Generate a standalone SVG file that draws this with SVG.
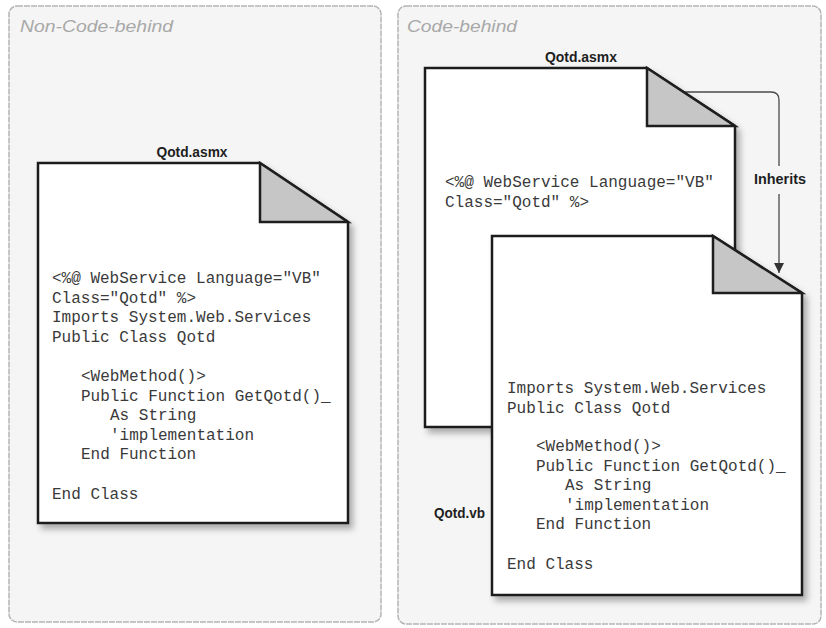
<svg xmlns="http://www.w3.org/2000/svg" width="826" height="628" viewBox="0 0 826 628">
<style>
.panel{fill:#f5f5f5;stroke:#b4b4b4;stroke-width:1.5;stroke-dasharray:6 1}
.title{font-family:"Liberation Sans",Arial,sans-serif;font-style:italic;font-size:17px;fill:#a8a8a8}
.doc{fill:#ffffff;stroke:#1e1e1e;stroke-width:2.5;stroke-linejoin:miter}
.fold{fill:#c6c6c6;stroke:#1e1e1e;stroke-width:2.5;stroke-linejoin:miter}
.label{font-family:"Liberation Sans",Arial,sans-serif;font-weight:bold;font-size:15px;fill:#1e1e1e}
.code{font-family:"Liberation Mono","DejaVu Sans Mono",monospace;font-size:16px;fill:#3a3a3a}
.conn{fill:none;stroke:#4a4a4a;stroke-width:1.3}
</style>
<defs>
<filter id="sh" x="-10%" y="-10%" width="130%" height="130%">
<feDropShadow dx="4" dy="5" stdDeviation="3" flood-color="#000" flood-opacity="0.3"/>
</filter>
<marker id="ah" markerWidth="10" markerHeight="10" refX="10" refY="5" orient="auto" markerUnits="userSpaceOnUse" viewBox="0 0 10 10">
<path d="M0,0 L10,5 L0,10 Z" fill="#333"/>
</marker>
</defs>

<g id="panel-left">
<rect class="panel" x="9" y="6" width="372" height="616" rx="8"/>
<text class="title" x="20" y="32" textLength="153" lengthAdjust="spacingAndGlyphs">Non-Code-behind</text>
</g>
<g id="panel-right">
<rect class="panel" x="398" y="6" width="423" height="618" rx="8"/>
<text class="title" x="407" y="32" textLength="110" lengthAdjust="spacingAndGlyphs">Code-behind</text>
</g>

<g id="connectors">
<path class="conn" d="M660 92 H771 Q779 92 779 100 V166 M779 194 V273" marker-end="url(#ah)"/>
<text class="label" x="780" y="184" text-anchor="middle" textLength="52" lengthAdjust="spacingAndGlyphs">Inherits</text>
</g>

<g id="doc-left">
<text class="label" x="192" y="157" text-anchor="middle" textLength="71" lengthAdjust="spacingAndGlyphs">Qotd.asmx</text>
<path class="doc" filter="url(#sh)" d="M38 163 H260 L348 222 V523 H38 Z"/>
<path class="fold" d="M260 163 V222 H348 Z"/>
<text class="code" x="52" y="283">&lt;%@ WebService Language="VB"</text>
<text class="code" x="52" y="302.6">Class="Qotd" %&gt;</text>
<text class="code" x="52" y="322.2">Imports System.Web.Services</text>
<text class="code" x="52" y="341.8">Public Class Qotd</text>
<text class="code" x="81" y="381">&lt;WebMethod()&gt;</text>
<text class="code" x="81" y="400.6">Public Function GetQotd()_</text>
<text class="code" x="110" y="420.2">As String</text>
<text class="code" x="110" y="439.8">'implementation</text>
<text class="code" x="81" y="459.4">End Function</text>
<text class="code" x="52" y="498.6">End Class</text>
</g>

<g id="doc-asmx">
<text class="label" x="581" y="62" text-anchor="middle" textLength="72" lengthAdjust="spacingAndGlyphs">Qotd.asmx</text>
<path class="doc" filter="url(#sh)" d="M425 68 H647 L735 126 V427 H425 Z"/>
<path class="fold" d="M647 68 V126 H735 Z"/>
<text class="code" x="445" y="187">&lt;%@ WebService Language="VB"</text>
<text class="code" x="445" y="206.6">Class="Qotd" %&gt;</text>
</g>

<g id="doc-vb">
<text class="label" x="434" y="518" textLength="51" lengthAdjust="spacingAndGlyphs">Qotd.vb</text>
<path class="doc" filter="url(#sh)" d="M492 236 H713 L802 293 V595 H492 Z"/>
<path class="fold" d="M713 236 V293 H802 Z"/>
<text class="code" x="507" y="393">Imports System.Web.Services</text>
<text class="code" x="507" y="412.6">Public Class Qotd</text>
<text class="code" x="536" y="451">&lt;WebMethod()&gt;</text>
<text class="code" x="536" y="470.6">Public Function GetQotd()_</text>
<text class="code" x="565" y="490.2">As String</text>
<text class="code" x="565" y="509.8">'implementation</text>
<text class="code" x="536" y="529.4">End Function</text>
<text class="code" x="507" y="568.6">End Class</text>
</g>
</svg>
